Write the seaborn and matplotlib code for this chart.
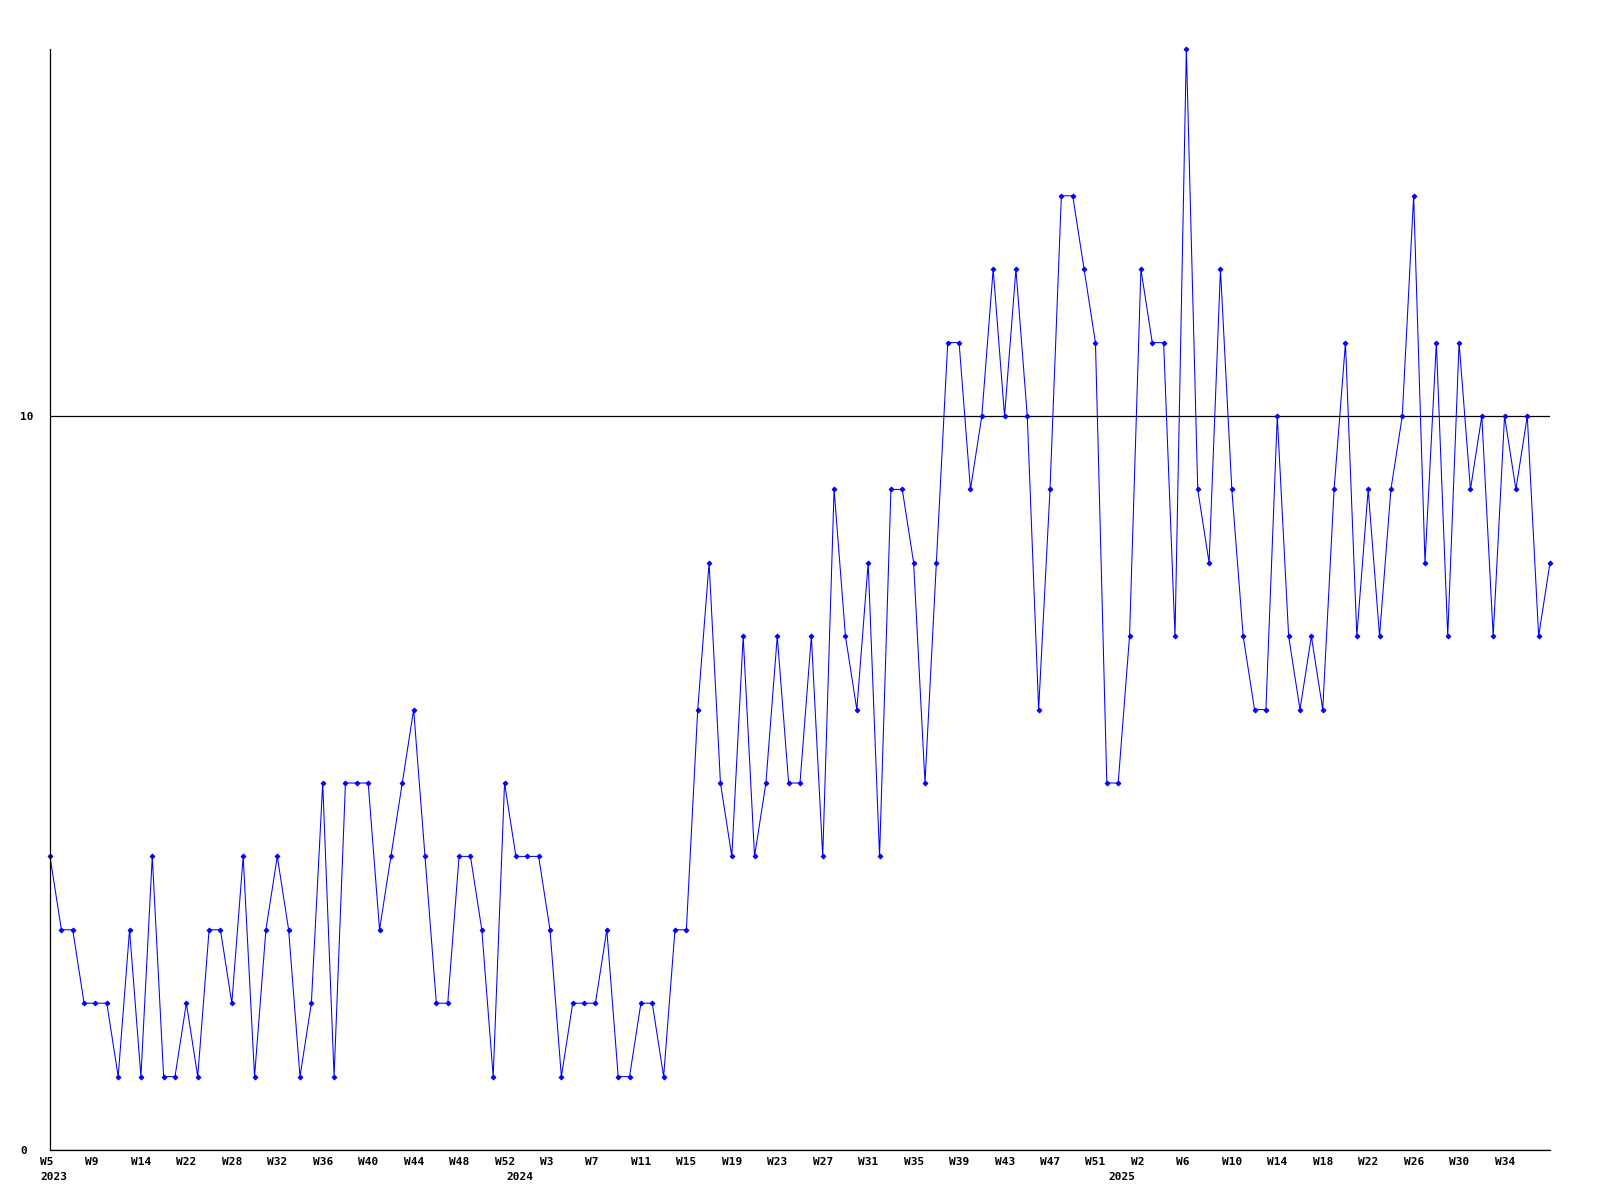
import matplotlib
matplotlib.use("Agg")
import matplotlib.pyplot as plt
import matplotlib.transforms as mtransforms
import numpy as np
import pandas as pd
import seaborn as sns

# ---- data ----
values = [
    4, 3, 3, 2, 2, 2, 1, 3, 1, 4, 1, 1, 2, 1, 3, 3, 2, 4, 1, 3, 4, 3, 1, 2, 5,
    1, 5, 5, 5, 3, 4, 5, 6, 4, 2, 2, 4, 4, 3, 1, 5, 4, 4, 4, 3, 1, 2, 2, 2, 3, 1,
    1, 2, 2, 1, 3, 3, 6, 8, 5, 4, 7, 4, 5, 7, 5, 5, 7, 4, 9, 7, 6, 8, 4, 9,
    9, 8, 5, 8, 11, 11, 9, 10, 12, 10, 12, 10, 6, 9, 13, 13, 12, 11, 5, 5, 7, 12, 11, 11, 7,
    15, 9, 8, 12, 9, 7, 6, 6, 10, 7, 6, 7, 6, 9, 11, 7, 9, 7, 9, 10, 13, 8, 11, 7, 11,
    9, 10, 7, 10, 9, 10, 7, 8,
]
week_tick_labels = [
    "W5", "W9", "W14", "W22", "W28", "W32", "W36", "W40", "W44", "W48", "W52",
    "W3", "W7", "W11", "W15", "W19", "W23", "W27", "W31", "W35", "W39", "W43", "W47", "W51",
    "W2", "W6", "W10", "W14", "W18", "W22", "W26", "W30", "W34",
]
tick_step = 4
year_labels = ["2023", "2024", "2025"]
year_start_index = [0, 41, 94]
y_ticks = [0, 10]

df = pd.DataFrame({"idx": np.arange(len(values)), "value": values})

fig = plt.figure(figsize=(16, 12), dpi=100)
ax = fig.add_axes([50 / 1600, 50 / 1200, 1500 / 1600, 1101 / 1200])

sns.lineplot(data=df, x="idx", y="value", ax=ax, color="#0000FF",
             linewidth=0.75, marker="D", markersize=2.4,
             markeredgecolor="#0000FF", markerfacecolor="#0000FF", clip_on=False)

ax.set_xlim(0, len(values) - 1)
ax.set_ylim(0, 15)
ax.set_xlabel("")
ax.set_ylabel("")

for side in ["top", "right"]:
    ax.spines[side].set_visible(False)
for side in ["left", "bottom"]:
    ax.spines[side].set_color("black")
    ax.spines[side].set_linewidth(0.9)

font = dict(family="DejaVu Sans Mono", weight="bold", size=8)

ax.set_yticks(y_ticks)
ax.set_yticklabels([str(t) for t in y_ticks], ha="left", **font)
ax.tick_params(axis="y", length=0, pad=21.6)
ax.yaxis.grid(True, color="black", linewidth=0.9)
ax.xaxis.grid(False)
ax.set_axisbelow(True)

xt = np.arange(0, len(values), tick_step)[:len(week_tick_labels)]
ax.set_xticks(xt)
ax.set_xticklabels(week_tick_labels, ha="left", **font)
ax.tick_params(axis="x", length=0, pad=5)
offset = mtransforms.ScaledTranslation(-10 / 100, 0, fig.dpi_scale_trans)
for lab in ax.get_xticklabels():
    lab.set_transform(lab.get_transform() + offset)

for yl, yi in zip(year_labels, year_start_index):
    ax.annotate(yl, xy=(yi, 0), xycoords=("data", "axes fraction"),
                xytext=(-10, -22), textcoords="offset pixels",
                ha="left", va="top", annotation_clip=False, **font)

fig.savefig("out.png", dpi=100)
